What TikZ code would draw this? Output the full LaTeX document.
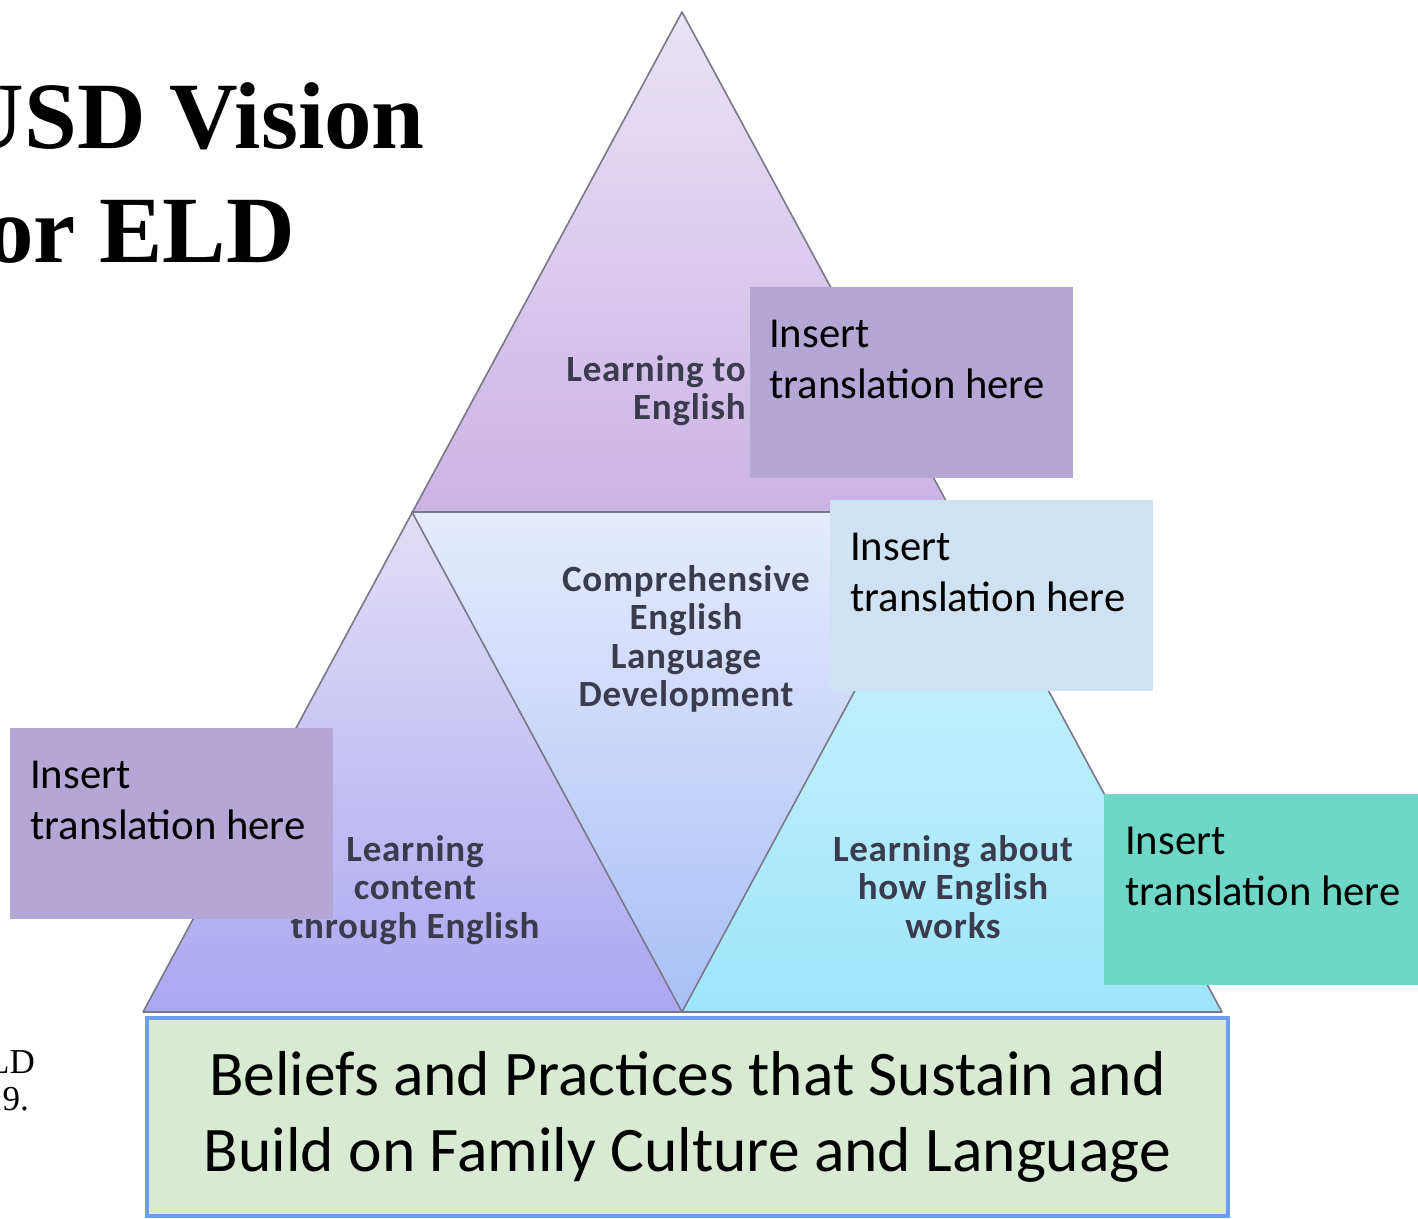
\documentclass[tikz,border=0pt]{standalone}
\usepackage{fontspec}
\setmainfont{Carlito}
\newfontfamily\titleface{Liberation Serif}
\newfontfamily\tagface[LetterSpace=2]{Carlito}

\definecolor{edgegray}{HTML}{787888}
\definecolor{inkgray}{HTML}{3B3B4E}
\definecolor{topA}{HTML}{E9E3F6}
\definecolor{topB}{HTML}{CBB3E5}
\definecolor{midA}{HTML}{E6EBFC}
\definecolor{midB}{HTML}{A8BFF6}
\definecolor{leftA}{HTML}{E2DEF5}
\definecolor{leftB}{HTML}{ACA7F2}
\definecolor{rightA}{HTML}{D3F4FC}
\definecolor{rightB}{HTML}{9EE5FB}
\definecolor{boxlilac}{HTML}{B4A7D6}
\definecolor{boxblue}{HTML}{CFE2F3}
\definecolor{boxteal}{HTML}{6FD7C7}
\definecolor{basegreen}{HTML}{D9EAD3}
\definecolor{baseblue}{HTML}{6D9EEB}

\begin{document}
\begin{tikzpicture}[x=1pt,y=-1pt,
  edge/.style={draw=edgegray,line width=1.6pt,line join=round},
  notebox/.style={inner sep=0pt,anchor=north west,minimum width=323pt,minimum height=191pt},
  notetext/.style={inner sep=0pt,anchor=north west,align=left,text=black,
    font=\fontsize{42.7}{51}\selectfont},
  tritext/.style={inner sep=0pt,anchor=north,align=center,text=inkgray,
    font=\tagface\bfseries\fontsize{37}{38.5}\selectfont},
  titletext/.style={inner sep=0pt,anchor=base east,
    font=\titleface\bfseries\fontsize{95}{114}\selectfont},
  citetext/.style={inner sep=0pt,anchor=base east,
    font=\titleface\fontsize{35}{42}\selectfont}]

\useasboundingbox (0,0) rectangle (1418,1218);
\fill[white] (0,0) rectangle (1418,1218);

% corners of the pyramid
\coordinate (apex) at (682,12);
\coordinate (ml) at (412,512);
\coordinate (mr) at (951,512);
\coordinate (bl) at (143,1012);
\coordinate (bm) at (682,1012);
\coordinate (br) at (1222,1012);

% four shaded triangles
\shade[top color=topA,bottom color=topB] (apex) -- (ml) -- (mr) -- cycle;
\shade[top color=midA,bottom color=midB] (ml) -- (mr) -- (bm) -- cycle;
\shade[top color=leftA,bottom color=leftB] (ml) -- (bm) -- (bl) -- cycle;
\shade[top color=rightA,bottom color=rightB] (mr) -- (br) -- (bm) -- cycle;
\draw[edge] (apex) -- (bl) -- (br) -- cycle;
\draw[edge] (ml) -- (mr) -- (bm) -- cycle;

% labels inside the triangles
\node[tritext,anchor=north east,align=right] (lblTop) at (746,355) {Learning to\\English};
\node[tritext] (lblMid) at (686,565) {Comprehensive\\English\\Language\\Development};
\node[tritext] (lblLeft) at (415,835) {Learning\\content\\through English};
\node[tritext] (lblRight) at (953,835) {Learning about\\how English\\works};

% translation boxes
\node[notebox,fill=boxlilac] (boxA) at (750,287) {};
\node[notetext] (txtA) at ([shift={(19,33)}]boxA.north west) {Insert\\translation here};
\node[notebox,fill=boxblue] (boxB) at (830,500) {};
\node[notetext] (txtB) at ([shift={(20,33)}]boxB.north west) {Insert\\translation here};
\node[notebox,fill=boxlilac] (boxC) at (10,728) {};
\node[notetext] (txtC) at ([shift={(20,33)}]boxC.north west) {Insert\\translation here};
\node[notebox,fill=boxteal,minimum width=314pt] (boxD) at (1104,794) {};
\node[notetext] (txtD) at ([shift={(21,33)}]boxD.north west) {Insert\\translation here};

% foundation bar
\node[draw=baseblue,line width=4pt,fill=basegreen,anchor=north west,
  minimum width=1081pt,minimum height=198pt,inner sep=0pt,align=center,
  font=\fontsize{63.5}{76}\selectfont] (base) at (145,1016)
  {Beliefs and Practices that Sustain and\\Build on Family Culture and Language};

% heading and side note, trimmed by the page edge
\begin{scope}
\clip (0,0) rectangle (1418,1218);
\node[titletext] (title1) at (425,148) {USD Vision};
\node[titletext] (title2) at (295,262) {for ELD};
\node[citetext] (cite1) at (35,1073) {LD};
\node[citetext] (cite2) at (29,1110) {19.};
\end{scope}

\end{tikzpicture}
\end{document}
